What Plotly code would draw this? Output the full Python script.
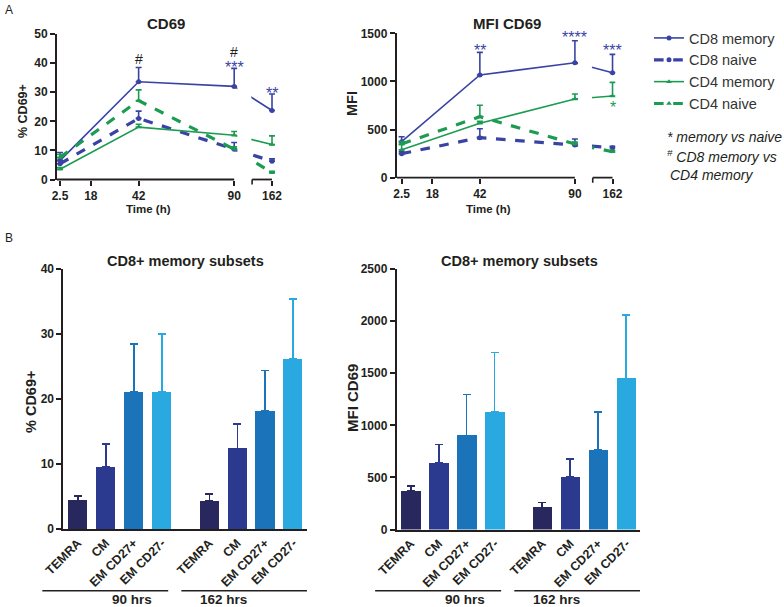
import plotly.graph_objects as go

W, H = 784, 607

# ---------------- data ----------------
hours = [2.5, 42, 90, 162]
hour_tick_vals = [2.5, 18, 42, 90, 162]
hour_tick_text = ["2.5", "18", "42", "90", "162"]
series_names = ["CD8 memory", "CD8 naive", "CD4 memory", "CD4 naive"]

pct_cd69 = {
    "CD8 memory": [6.5, 33.6, 32.0, 23.7],
    "CD8 naive": [5.4, 21.0, 10.4, 6.3],
    "CD4 memory": [3.5, 18.0, 15.2, 12.0],
    "CD4 naive": [7.6, 27.1, 10.4, 2.3],
}
pct_cd69_err = {
    "CD8 memory": [2.8, 4.9, 6.2, 5.7],
    "CD8 naive": [1.2, 2.5, 2.3, 0.8],
    "CD4 memory": [0.6, 1.0, 1.3, 3.0],
    "CD4 naive": [1.0, 3.7, 0.8, 0.5],
}
mfi_cd69 = {
    "CD8 memory": [374, 1067, 1194, 1090],
    "CD8 naive": [250, 416, 340, 312],
    "CD4 memory": [290, 565, 817, 848],
    "CD4 naive": [350, 634, 350, 270],
}
mfi_cd69_err = {
    "CD8 memory": [52, 235, 229, 191],
    "CD8 naive": [20, 93, 62, 15],
    "CD4 memory": [55, 20, 52, 142],
    "CD4 naive": [25, 118, 20, 15],
}

# significance marks: (series, hour index, text, colour key, placement, lift in px)
sig_pct = [("CD8 memory", 1, "#", "black", "above", 8),
           ("CD8 memory", 2, "***", "blue", "above", 5),
           ("CD8 memory", 2, "#", "black", "above", 16),
           ("CD8 memory", 3, "**", "blue", "above", 4.5)]
sig_mfi = [("CD8 memory", 1, "**", "blue", "above", 5.5),
           ("CD8 memory", 2, "****", "blue", "above", 7.5),
           ("CD8 memory", 3, "***", "blue", "above", 7.5),
           ("CD4 memory", 3, "*", "green", "below", 7.5)]

subsets = ["TEMRA", "CM", "EM CD27+", "EM CD27-"]
timepoints = ["90 hrs", "162 hrs"]
subset_pct = {"90 hrs": [4.4, 9.6, 21.1, 21.1], "162 hrs": [4.3, 12.4, 18.2, 26.2]}
subset_pct_err = {"90 hrs": [0.7, 3.5, 7.4, 8.9], "162 hrs": [1.1, 3.8, 6.2, 9.2]}
subset_mfi = {"90 hrs": [372, 641, 904, 1128], "162 hrs": [213, 507, 766, 1451]}
subset_mfi_err = {"90 hrs": [45, 173, 390, 569], "162 hrs": [48, 170, 359, 605]}

# ---------------- styles ----------------
BLUE = "#3a43a4"
GREEN = "#1c9c52"
INK = "#231f20"
sig_colors = {"blue": BLUE, "green": GREEN, "black": INK}
series_style = {
    "CD8 memory": dict(color=BLUE, dash="solid", width=1.6, symbol="circle"),
    "CD8 naive": dict(color=BLUE, dash="dash", width=3.2, symbol="circle"),
    "CD4 memory": dict(color=GREEN, dash="solid", width=1.6, symbol="triangle-up"),
    "CD4 naive": dict(color=GREEN, dash="dash", width=3.2, symbol="triangle-up"),
}
subset_colors = ["#28285f", "#2b3a8f", "#1b74b9", "#29a9e0"]
FONT = "Liberation Sans, Arial, sans-serif"

# broken time axis: 162 h is drawn in a short second segment after a gap
SEG2_START = 99.0
SEG2_162 = 109.0


def tpos(h):
    return h if h <= 90 else SEG2_162


def xdom(px0, px1):
    return [px0 / W, px1 / W]


def ydom(top, bottom):
    return [1 - bottom / H, 1 - top / H]


fig = go.Figure()


def axis_common(size=12):
    return dict(showgrid=False, zeroline=False, color=INK, automargin=False,
                tickfont=dict(family=FONT, size=size, color=INK, weight="bold"),
                ticks="outside", ticklen=5, tickwidth=1.6, tickcolor=INK)


A_Y = {"y": (34, 179.5), "y2": (33.3, 177.7)}

# ---- Panel A layout ----
fig.update_layout(
    xaxis=dict(domain=xdom(57, 275), range=[1, 110.5], anchor="y",
               tickvals=[tpos(h) for h in hour_tick_vals],
               ticktext=hour_tick_text, showline=False, **axis_common()),
    yaxis=dict(domain=ydom(*A_Y["y"]), range=[0, 50], anchor="x",
               tickvals=[0, 10, 20, 30, 40, 50], showline=True, linewidth=1.8,
               linecolor=INK, **axis_common()),
    xaxis2=dict(domain=xdom(396.7, 615.5), range=[0, 110.5], anchor="y2",
                tickvals=[tpos(h) for h in hour_tick_vals],
                ticktext=hour_tick_text, showline=False, **axis_common()),
    yaxis2=dict(domain=ydom(*A_Y["y2"]), range=[0, 1500], anchor="x2",
                tickvals=[0, 500, 1000, 1500], showline=True, linewidth=1.8,
                linecolor=INK, **axis_common()),
)

for panel, (vals, errs, xa, ya) in enumerate([(pct_cd69, pct_cd69_err, "x", "y"),
                                              (mfi_cd69, mfi_cd69_err, "x2", "y2")]):
    for name in series_names:
        st = series_style[name]
        fig.add_trace(go.Scatter(
            x=[tpos(h) for h in hours], y=vals[name], xaxis=xa, yaxis=ya,
            mode="lines+markers", name=name, showlegend=(panel == 0),
            line=dict(color=st["color"], dash=st["dash"], width=st["width"]),
            marker=dict(color=st["color"], size=5, symbol=st["symbol"]),
            error_y=dict(type="data", array=errs[name], symmetric=False,
                         arrayminus=[0] * len(hours), color=st["color"],
                         thickness=1.6, width=3),
            cliponaxis=False,
        ))

shapes = []
annotations = []

# gap masks and broken x-axis lines for panel A
for xa, ya, x0 in [("x", "y", 1), ("x2", "y2", 0)]:
    dom_h = A_Y[ya][1] - A_Y[ya][0]
    shapes.append(dict(type="rect", xref=xa, yref=ya + " domain", x0=91.6, x1=SEG2_START - 0.4,
                       y0=0.004, y1=1.05, fillcolor="white", line=dict(width=0), layer="above"))
    shapes.append(dict(type="line", xref=xa, yref=ya + " domain", x0=x0, x1=90, y0=0, y1=0,
                       line=dict(color=INK, width=1.8), layer="above"))
    shapes.append(dict(type="line", xref=xa, yref=ya + " domain", x0=SEG2_START, x1=SEG2_162,
                       y0=0, y1=0, line=dict(color=INK, width=1.8), layer="above"))
    # end tick at the start of the second axis segment
    shapes.append(dict(type="line", xref=xa, yref=ya + " domain", x0=SEG2_START, x1=SEG2_START,
                       y0=0, y1=-5 / dom_h, line=dict(color=INK, width=1.6), layer="above"))


def add_sig(marks, vals, errs, xa, ya):
    for name, i, txt, col, where, lift in marks:
        star = "*" in txt
        if where == "above":
            y = vals[name][i] + errs[name][i]
            shift = lift - (4 if star else 0)
        else:
            y = vals[name][i]
            shift = -lift - (4 if star else 0)
        annotations.append(dict(x=tpos(hours[i]), y=y, xref=xa, yref=ya, text=txt,
                                showarrow=False, yanchor="middle", yshift=shift,
                                font=dict(family=FONT, size=16 if star else 14,
                                          color=sig_colors[col])))


add_sig(sig_pct, pct_cd69, pct_cd69_err, "x", "y")
add_sig(sig_mfi, mfi_cd69, mfi_cd69_err, "x2", "y2")

# ---- Panel B ----
GROUP_STEP = 4.7
bar_pos = {tp: [g * GROUP_STEP + i for i in range(len(subsets))] for g, tp in enumerate(timepoints)}
all_pos = bar_pos["90 hrs"] + bar_pos["162 hrs"]
all_lbl = subsets + subsets

xb_common = {**axis_common(12.5), "ticks": ""}
fig.update_layout(
    xaxis3=dict(domain=xdom(63.3, 306.7), range=[-0.52, 8.18], anchor="y3",
                tickvals=all_pos, ticktext=all_lbl, tickangle=-45, showline=True,
                linewidth=1.8, linecolor=INK, **xb_common),
    yaxis3=dict(domain=ydom(269, 529), range=[0, 40], anchor="x3",
                tickvals=[0, 10, 20, 30, 40], showline=True, linewidth=1.8,
                linecolor=INK, **axis_common()),
    xaxis4=dict(domain=xdom(396.7, 640), range=[-0.5, 8.19], anchor="y4",
                tickvals=all_pos, ticktext=all_lbl, tickangle=-45, showline=True,
                linewidth=1.8, linecolor=INK, **xb_common),
    yaxis4=dict(domain=ydom(269, 529.5), range=[0, 2500], anchor="x4",
                tickvals=[0, 500, 1000, 1500, 2000, 2500], showline=True, linewidth=1.8,
                linecolor=INK, **axis_common()),
)

for vals, errs, xa, ya in [(subset_pct, subset_pct_err, "x3", "y3"),
                           (subset_mfi, subset_mfi_err, "x4", "y4")]:
    for tp in timepoints:
        for i, sub in enumerate(subsets):
            fig.add_trace(go.Bar(
                x=[bar_pos[tp][i]], y=[vals[tp][i]], xaxis=xa, yaxis=ya, width=0.68,
                marker=dict(color=subset_colors[i], line=dict(width=0)), showlegend=False,
                error_y=dict(type="data", array=[errs[tp][i]], symmetric=False, arrayminus=[0],
                             color=subset_colors[i], thickness=1.6, width=4),
            ))
    # group underline + label
    xr = fig.layout[{"x3": "xaxis3", "x4": "xaxis4"}[xa]].range
    for g, tp in enumerate(timepoints):
        first, last = bar_pos[tp][0], bar_pos[tp][-1]
        a = first - (1.27 if g == 0 else 1.0)
        b = last + (0.23 if g == 0 else 0.49)
        f0 = (a - xr[0]) / (xr[1] - xr[0])
        f1 = (b - xr[0]) / (xr[1] - xr[0])
        shapes.append(dict(type="line", xref=xa + " domain", yref="paper", x0=f0, x1=f1,
                           y0=1 - 590.7 / H, y1=1 - 590.7 / H, line=dict(color=INK, width=1.6)))
        annotations.append(dict(x=(f0 + f1) / 2 + 0.02, y=1 - 599.5 / H, xref=xa + " domain",
                                yref="paper", text="<b>%s</b>" % tp, showarrow=False,
                                font=dict(family=FONT, size=13.5, color=INK), yanchor="middle"))


# ---- titles, axis titles, labels ----
def txt(x, y, s, size, bold=True, angle=0, italic=False, xanchor="center", color=INK):
    if bold:
        s = "<b>%s</b>" % s
    if italic:
        s = "<i>%s</i>" % s
    annotations.append(dict(x=x / W, y=1 - y / H, xref="paper", yref="paper", text=s,
                            showarrow=False, textangle=angle, xanchor=xanchor, yanchor="middle",
                            font=dict(family=FONT, size=size, color=color)))


txt(9, 10, "A", 12, bold=False)
txt(9, 238, "B", 12, bold=False)
txt(166, 24, "CD69", 15)
txt(507, 23, "MFI CD69", 15)
txt(23, 111, "% CD69+", 12.5, angle=-90)
txt(352, 104, "MFI", 14.5, angle=-90)
txt(148, 209, "Time (h)", 11.5)
txt(489, 209, "Time (h)", 11.5)
txt(185, 261, "CD8+ memory subsets", 14.5)
txt(519, 261, "CD8+ memory subsets", 14.5)
txt(31, 402, "% CD69+", 14.5, angle=-90)
txt(352, 398, "MFI CD69", 15, angle=-90)
txt(665, 137, "* memory vs naive", 14, bold=False, italic=True, xanchor="left")
txt(665, 156, "<sup>#</sup> CD8 memory vs", 14, bold=False, italic=True, xanchor="left")
txt(668, 175, "CD4 memory", 14, bold=False, italic=True, xanchor="left")

fig.update_layout(
    template="none",
    width=W, height=H, margin=dict(l=0, r=0, t=0, b=0, autoexpand=False),
    paper_bgcolor="white", plot_bgcolor="white",
    font=dict(family=FONT, color=INK),
    shapes=shapes, annotations=annotations, bargap=0,
    legend=dict(x=649 / W, y=1 - 22 / H, xanchor="left", yanchor="top",
                font=dict(family=FONT, size=14.5, color="#333333"),
                bgcolor="rgba(0,0,0,0)", tracegroupgap=0, itemwidth=30),
)

# remove the browser's default page margin so the figure sits at the window origin
fig.write_html("out.html", config={"displayModeBar": False},
               post_script="document.body.style.margin='0';document.body.style.padding='0';")
